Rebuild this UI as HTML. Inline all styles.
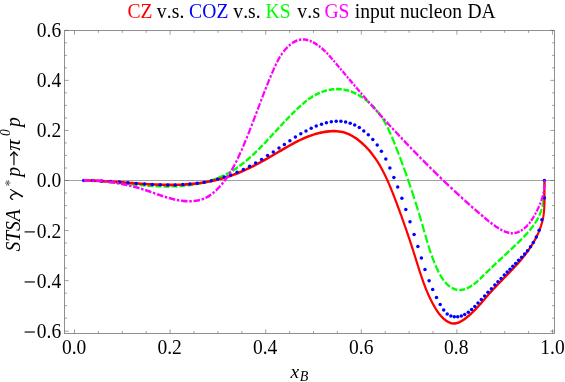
<!DOCTYPE html>
<html><head><meta charset="utf-8"><title>plot</title>
<style>html,body{margin:0;padding:0;background:#fff}svg{display:block;will-change:transform}text{font-family:"Liberation Serif",serif;font-kerning:none}</style></head><body>
<svg width="565" height="382" viewBox="0 0 565 382">
<rect width="565" height="382" fill="#fff"/>
<path d="M64.5,180.5 H554.5" stroke="#555" stroke-width="0.55" fill="none"/>
<g transform="scale(1,1.2)" fill="none" stroke-width="2.15">
<path d="M83.70,150.42 L84.68,150.43 L85.66,150.44 L86.64,150.46 L87.62,150.48 L88.60,150.51 L89.58,150.54 L89.78,150.54M91.70,150.61 L92.52,150.64 L93.50,150.68 L94.47,150.72 L95.45,150.77 L96.43,150.81 L97.40,150.86 L97.77,150.88M99.68,150.99 L100.33,151.03 L101.31,151.09 L102.28,151.15 L103.26,151.21 L104.23,151.27 L105.21,151.34 L105.75,151.38M107.66,151.51 L108.13,151.55 L109.10,151.62 L110.08,151.69 L111.05,151.76 L112.02,151.84 L112.99,151.92 L113.71,151.97M115.62,152.13 L115.91,152.15 L116.88,152.23 L117.86,152.31 L118.83,152.39 L119.80,152.48 L120.77,152.56 L121.67,152.63M123.58,152.80 L123.68,152.80 L124.66,152.89 L125.63,152.97 L126.60,153.05 L127.57,153.14 L128.54,153.22 L129.51,153.30 L129.63,153.31M131.54,153.47 L132.42,153.54 L133.39,153.62 L134.36,153.70 L135.33,153.78 L136.30,153.85 L137.27,153.93 L137.59,153.95M139.51,154.10 L140.19,154.15 L141.16,154.22 L142.13,154.29 L143.10,154.36 L144.07,154.42 L145.04,154.49 L145.57,154.52M147.48,154.64 L147.95,154.67 L148.93,154.73 L149.90,154.78 L150.87,154.83 L151.84,154.88 L152.81,154.93 L153.55,154.97M155.47,155.05 L155.73,155.06 L156.70,155.10 L157.68,155.13 L158.65,155.16 L159.62,155.19 L160.60,155.22 L161.54,155.24M163.46,155.27 L163.52,155.27 L164.49,155.29 L165.47,155.30 L166.44,155.30 L167.42,155.30 L168.39,155.30 L169.37,155.30 L169.54,155.30M171.46,155.27 L172.30,155.26 L173.27,155.23 L174.25,155.21 L175.23,155.18 L176.21,155.14 L177.18,155.11 L177.54,155.09M179.45,155.00 L180.12,154.96 L181.10,154.90 L182.08,154.84 L183.06,154.77 L184.04,154.70 L185.02,154.62 L185.51,154.58M187.42,154.41 L187.97,154.36 L188.95,154.26 L189.93,154.16 L190.90,154.05 L191.88,153.93 L192.86,153.81 L193.45,153.73M195.34,153.48 L195.78,153.41 L196.76,153.27 L197.73,153.12 L198.70,152.96 L199.66,152.80 L200.63,152.63 L201.31,152.51M203.18,152.16 L203.51,152.09 L204.47,151.90 L205.42,151.70 L206.37,151.49 L207.32,151.28 L208.27,151.06 L209.06,150.87M210.90,150.41 L211.09,150.36 L212.02,150.11 L212.95,149.86 L213.87,149.60 L214.79,149.33 L215.71,149.06 L216.62,148.77 L216.65,148.77M218.44,148.19 L219.34,147.88 L220.23,147.57 L221.12,147.25 L222.01,146.92 L222.89,146.59 L223.76,146.25 L224.01,146.15M225.73,145.44 L226.36,145.17 L227.21,144.80 L228.06,144.42 L228.91,144.03 L229.75,143.63 L230.58,143.23 L231.05,143.00M232.69,142.17 L233.06,141.98 L233.87,141.55 L234.68,141.11 L235.49,140.67 L236.29,140.22 L237.09,139.76 L237.82,139.34M239.39,138.39 L239.45,138.36 L240.23,137.88 L241.01,137.40 L241.78,136.91 L242.55,136.41 L243.31,135.91 L244.07,135.40 L244.40,135.18M245.94,134.13 L246.33,133.86 L247.08,133.34 L247.82,132.81 L248.56,132.27 L249.30,131.74 L250.03,131.20 L250.76,130.65 L250.81,130.61M252.32,129.47 L252.93,129.00 L253.65,128.44 L254.36,127.87 L255.08,127.31 L255.79,126.74 L256.49,126.17 L256.92,125.82M258.35,124.65 L258.60,124.44 L259.30,123.86 L259.99,123.27 L260.69,122.69 L261.38,122.10 L262.07,121.51 L262.74,120.94M264.11,119.75 L264.12,119.73 L264.81,119.14 L265.49,118.54 L266.17,117.94 L266.84,117.34 L267.52,116.74 L268.19,116.14 L268.34,116.01M269.67,114.82 L270.21,114.33 L270.88,113.73 L271.55,113.13 L272.21,112.53 L272.88,111.92 L273.55,111.32 L273.80,111.09M275.10,109.92 L275.54,109.52 L276.20,108.92 L276.87,108.32 L277.53,107.72 L278.19,107.12 L278.85,106.52 L279.17,106.24M280.46,105.08 L280.84,104.74 L281.51,104.14 L282.17,103.55 L282.83,102.96 L283.50,102.37 L284.17,101.78 L284.51,101.48M285.80,100.35 L286.17,100.02 L286.84,99.43 L287.51,98.85 L288.19,98.27 L288.86,97.69 L289.54,97.11 L289.89,96.81M291.20,95.70 L291.58,95.38 L292.26,94.81 L292.95,94.24 L293.64,93.67 L294.33,93.10 L295.03,92.54 L295.37,92.26M296.70,91.19 L297.13,90.85 L297.83,90.29 L298.54,89.74 L299.25,89.18 L299.97,88.63 L300.69,88.09 L300.97,87.88M302.35,86.86 L302.88,86.47 L303.62,85.95 L304.37,85.42 L305.12,84.91 L305.88,84.40 L306.64,83.90 L306.83,83.78M308.30,82.86 L308.98,82.44 L309.78,81.97 L310.58,81.52 L311.40,81.07 L312.22,80.63 L313.05,80.20 L313.10,80.18M314.67,79.41 L314.74,79.38 L315.60,78.99 L316.47,78.61 L317.35,78.25 L318.25,77.90 L319.15,77.56 L319.83,77.32M321.52,76.76 L321.92,76.63 L322.86,76.35 L323.80,76.09 L324.76,75.84 L325.71,75.61 L326.68,75.40 L326.96,75.34M328.72,75.01 L329.59,74.86 L330.57,74.72 L331.55,74.59 L332.53,74.49 L333.51,74.40 L334.33,74.34M336.11,74.27 L336.45,74.26 L337.43,74.25 L338.40,74.26 L339.37,74.30 L340.34,74.35 L341.30,74.43 L341.73,74.47M343.49,74.67 L344.17,74.77 L345.11,74.92 L346.05,75.09 L346.99,75.28 L347.92,75.49 L348.85,75.72 L349.08,75.78M350.81,76.26 L351.59,76.49 L352.49,76.78 L353.38,77.09 L354.27,77.41 L355.15,77.74 L356.03,78.09 L356.23,78.18M357.88,78.90 L358.60,79.23 L359.45,79.63 L360.29,80.05 L361.11,80.48 L361.93,80.92 L362.75,81.37 L363.02,81.53M364.57,82.46 L365.13,82.80 L365.91,83.30 L366.68,83.81 L367.44,84.33 L368.20,84.86 L368.94,85.40 L369.51,85.83M370.99,86.97 L371.12,87.07 L371.82,87.65 L372.52,88.23 L373.21,88.82 L373.89,89.42 L374.55,90.03 L375.21,90.65 L375.68,91.09M377.06,92.47 L377.13,92.53 L377.74,93.18 L378.35,93.82 L378.95,94.48 L379.53,95.14 L380.11,95.80 L380.67,96.47 L381.23,97.15 L381.35,97.30M382.60,98.89 L382.83,99.19 L383.34,99.88 L383.84,100.58 L384.33,101.28 L384.82,101.98 L385.29,102.69 L385.76,103.40 L386.22,104.11 L386.39,104.37M387.48,106.15 L387.55,106.27 L387.98,106.99 L388.41,107.72 L388.83,108.45 L389.24,109.18 L389.64,109.92 L390.05,110.66 L390.44,111.39 L390.82,112.12M391.81,114.03 L391.99,114.37 L392.36,115.12 L392.74,115.87 L393.11,116.62 L393.48,117.37 L393.84,118.12 L394.21,118.87 L394.57,119.63 L394.91,120.32M395.86,122.32 L396.01,122.65 L396.37,123.41 L396.73,124.16 L397.08,124.92 L397.44,125.68 L397.79,126.44 L398.14,127.20 L398.50,127.96 L398.85,128.72 L398.91,128.85M399.85,130.92 L399.89,131.00 L400.23,131.76 L400.58,132.52 L400.92,133.29 L401.26,134.05 L401.61,134.82 L401.95,135.58 L402.29,136.34 L402.62,137.11 L402.87,137.68M403.81,139.82 L403.96,140.17 L404.30,140.94 L404.63,141.71 L404.96,142.48 L405.29,143.25 L405.62,144.02 L405.94,144.78 L406.27,145.55 L406.60,146.32 L406.80,146.80M407.72,149.01 L407.89,149.41 L408.21,150.18 L408.53,150.95 L408.84,151.72 L409.16,152.50 L409.48,153.27 L409.79,154.04 L410.10,154.81 L410.42,155.59 L410.67,156.22M411.58,158.50 L411.66,158.69 L411.97,159.46 L412.27,160.24 L412.58,161.01 L412.88,161.79 L413.19,162.56 L413.49,163.34 L413.79,164.11 L414.09,164.89 L414.39,165.67 L414.43,165.77M415.31,168.07 L415.58,168.78 L415.87,169.55 L416.17,170.33 L416.46,171.11 L416.75,171.89 L417.04,172.66 L417.33,173.44 L417.62,174.22 L417.91,175.00 L417.98,175.20M418.81,177.45 L419.05,178.11 L419.33,178.89 L419.61,179.67 L419.89,180.45 L420.17,181.23 L420.45,182.01 L420.73,182.79 L421.01,183.57 L421.29,184.35 L421.32,184.44M422.10,186.65 L422.11,186.68 L422.38,187.46 L422.65,188.24 L422.92,189.02 L423.19,189.80 L423.46,190.58 L423.73,191.36 L424.00,192.14 L424.27,192.92 L424.47,193.51M425.21,195.68 L425.34,196.03 L425.61,196.81 L425.88,197.59 L426.15,198.37 L426.42,199.14 L426.69,199.92 L426.97,200.70 L427.24,201.47 L427.52,202.25 L427.57,202.38M428.34,204.48 L428.38,204.58 L428.66,205.35 L428.96,206.12 L429.25,206.90 L429.55,207.67 L429.85,208.44 L430.16,209.21 L430.47,209.98 L430.78,210.75 L430.87,210.98M431.73,213.01 L431.75,213.05 L432.08,213.82 L432.42,214.59 L432.76,215.35 L433.10,216.12 L433.46,216.88 L433.82,217.64 L434.18,218.40 L434.55,219.16 L434.59,219.24M435.57,221.18 L435.70,221.44 L436.10,222.19 L436.50,222.95 L436.92,223.70 L437.34,224.45 L437.76,225.21 L438.20,225.96 L438.64,226.70 L438.77,226.92M439.89,228.69 L440.04,228.92 L440.52,229.64 L441.03,230.36 L441.54,231.07 L442.08,231.77 L442.63,232.45 L443.19,233.12 L443.72,233.72M445.14,235.18 L445.65,235.66 L446.31,236.25 L447.00,236.82 L447.72,237.37 L448.45,237.90 L449.22,238.40 L449.99,238.87M451.75,239.80 L452.47,240.12 L453.33,240.47 L454.20,240.77 L455.08,241.04 L455.98,241.26 L456.88,241.44 L457.39,241.51M459.28,241.65 L459.63,241.66 L460.56,241.64 L461.48,241.56 L462.41,241.44 L463.34,241.28 L464.26,241.07 L465.05,240.86M466.79,240.32 L467.00,240.24 L467.89,239.90 L468.78,239.53 L469.66,239.14 L470.53,238.72 L471.38,238.28 L472.07,237.90M473.62,236.99 L473.85,236.86 L474.64,236.36 L475.42,235.84 L476.18,235.31 L476.94,234.78 L477.68,234.23 L478.36,233.72M479.79,232.61 L479.87,232.55 L480.58,231.97 L481.29,231.40 L482.00,230.82 L482.70,230.24 L483.40,229.65 L484.10,229.07 L484.26,228.93M485.67,227.77 L486.19,227.34 L486.89,226.76 L487.60,226.19 L488.30,225.62 L489.00,225.05 L489.71,224.49 L490.26,224.05M491.72,222.88 L491.82,222.80 L492.53,222.24 L493.23,221.68 L493.94,221.13 L494.65,220.57 L495.35,220.01 L496.06,219.46 L496.46,219.15M497.97,217.98 L498.19,217.80 L498.90,217.25 L499.61,216.70 L500.32,216.15 L501.03,215.60 L501.74,215.05 L502.45,214.50 L502.83,214.20M504.37,213.01 L504.58,212.85 L505.29,212.30 L506.00,211.75 L506.71,211.20 L507.42,210.65 L508.13,210.09 L508.84,209.54 L509.27,209.20M510.82,207.99 L510.96,207.87 L511.67,207.32 L512.38,206.76 L513.09,206.20 L513.79,205.64 L514.50,205.07 L515.21,204.51 L515.69,204.12M517.22,202.88 L517.32,202.80 L518.02,202.23 L518.73,201.66 L519.43,201.08 L520.13,200.50 L520.83,199.92 L521.53,199.34 L522.02,198.92M523.52,197.64 L523.61,197.57 L524.29,196.97 L524.97,196.37 L525.65,195.77 L526.32,195.16 L526.98,194.55 L527.64,193.94 L528.12,193.48M529.52,192.13 L529.57,192.08 L530.20,191.45 L530.81,190.81 L531.42,190.17 L532.02,189.53 L532.61,188.88 L533.19,188.23 L533.69,187.64M534.91,186.16 L535.39,185.56 L535.90,184.87 L536.41,184.19 L536.90,183.49 L537.37,182.79 L537.83,182.09 L538.27,181.38 L538.35,181.24M539.28,179.62 L539.51,179.20 L539.88,178.46 L540.24,177.72 L540.58,176.96 L540.90,176.20 L541.20,175.43 L541.49,174.66 L541.67,174.14M542.22,172.35 L542.24,172.30 L542.45,171.50 L542.66,170.70 L542.84,169.90 L543.02,169.09 L543.18,168.27 L543.32,167.46 L543.46,166.64 L543.48,166.52M543.73,164.66 L543.79,164.17 L543.88,163.35 L543.96,162.52 L544.03,161.70 L544.10,160.87 L544.15,160.05 L544.20,159.22 L544.23,158.70M544.30,156.81 L544.31,156.76 L544.33,155.94 L544.35,155.13 L544.36,154.32 L544.38,153.51 L544.38,152.71 L544.39,151.91 L544.40,151.12 L544.40,150.82" stroke="#00ff00"/>
<path d="M83.70,150.42 L85.65,150.43 L87.59,150.45 L89.54,150.48 L91.48,150.52 L93.43,150.57 L95.37,150.63 L97.31,150.69 L99.25,150.76 L101.19,150.84 L103.13,150.92 L105.08,151.01 L107.02,151.11 L108.95,151.21 L110.89,151.31 L112.83,151.42 L114.77,151.53 L116.71,151.65 L118.65,151.77 L120.58,151.88 L122.52,152.00 L124.46,152.13 L126.39,152.25 L128.33,152.37 L130.27,152.49 L132.20,152.61 L134.14,152.73 L136.08,152.85 L138.01,152.96 L139.95,153.07 L141.89,153.18 L143.82,153.28 L145.76,153.38 L147.70,153.48 L149.63,153.57 L151.57,153.65 L153.51,153.73 L155.45,153.80 L157.39,153.87 L159.32,153.92 L161.26,153.97 L163.20,154.01 L165.14,154.04 L167.08,154.06 L169.02,154.07 L170.97,154.07 L172.91,154.06 L174.85,154.04 L176.79,154.00 L178.74,153.96 L180.68,153.90 L182.63,153.82 L184.57,153.74 L186.52,153.63 L188.46,153.52 L190.41,153.39 L192.35,153.24 L194.29,153.08 L196.23,152.90 L198.17,152.71 L200.11,152.50 L202.04,152.27 L203.96,152.03 L205.89,151.76 L207.81,151.48 L209.72,151.18 L211.63,150.87 L213.53,150.53 L215.43,150.18 L217.31,149.80 L219.20,149.41 L221.07,148.99 L222.93,148.55 L224.79,148.10 L226.64,147.62 L228.48,147.12 L230.31,146.60 L232.13,146.06 L233.95,145.50 L235.75,144.93 L237.55,144.33 L239.34,143.72 L241.13,143.10 L242.90,142.45 L244.67,141.80 L246.44,141.12 L248.19,140.44 L249.94,139.74 L251.69,139.02 L253.43,138.30 L255.16,137.57 L256.89,136.82 L258.61,136.06 L260.33,135.30 L262.04,134.52 L263.75,133.74 L265.45,132.95 L267.15,132.15 L268.85,131.35 L270.54,130.54 L272.23,129.72 L273.91,128.90 L275.60,128.08 L277.28,127.25 L278.96,126.42 L280.63,125.60 L282.31,124.77 L283.99,123.95 L285.67,123.14 L287.36,122.33 L289.05,121.53 L290.74,120.74 L292.44,119.97 L294.14,119.21 L295.85,118.46 L297.57,117.73 L299.30,117.02 L301.04,116.32 L302.79,115.66 L304.55,115.01 L306.32,114.39 L308.11,113.79 L309.91,113.23 L311.73,112.69 L313.56,112.19 L315.41,111.72 L317.27,111.28 L319.16,110.88 L321.06,110.52 L322.98,110.19 L324.93,109.91 L326.89,109.68 L328.87,109.49 L330.85,109.36 L332.84,109.30 L334.82,109.29 L336.79,109.36 L338.74,109.51 L340.67,109.74 L342.58,110.06 L344.45,110.47 L346.29,110.97 L348.09,111.56 L349.85,112.23 L351.58,112.98 L353.27,113.79 L354.92,114.66 L356.53,115.58 L358.10,116.56 L359.63,117.57 L361.13,118.62 L362.58,119.69 L364.00,120.79 L365.37,121.92 L366.71,123.07 L368.02,124.25 L369.29,125.45 L370.52,126.67 L371.72,127.91 L372.89,129.18 L374.03,130.46 L375.14,131.77 L376.22,133.09 L377.28,134.43 L378.30,135.79 L379.31,137.17 L380.28,138.56 L381.23,139.96 L382.16,141.38 L383.07,142.81 L383.96,144.25 L384.83,145.71 L385.68,147.17 L386.51,148.64 L387.32,150.13 L388.12,151.62 L388.91,153.12 L389.68,154.62 L390.44,156.13 L391.18,157.64 L391.92,159.16 L392.65,160.68 L393.37,162.21 L394.08,163.73 L394.78,165.26 L395.48,166.78 L396.18,168.31 L396.87,169.83 L397.55,171.36 L398.23,172.88 L398.91,174.40 L399.58,175.93 L400.25,177.45 L400.92,178.97 L401.58,180.49 L402.23,182.01 L402.88,183.53 L403.53,185.05 L404.17,186.58 L404.81,188.10 L405.45,189.62 L406.08,191.14 L406.71,192.66 L407.34,194.19 L407.96,195.71 L408.57,197.24 L409.19,198.76 L409.80,200.29 L410.41,201.81 L411.01,203.34 L411.61,204.87 L412.21,206.40 L412.80,207.93 L413.40,209.47 L413.98,211.00 L414.57,212.53 L415.15,214.07 L415.73,215.61 L416.31,217.15 L416.89,218.69 L417.46,220.23 L418.04,221.77 L418.63,223.31 L419.21,224.85 L419.81,226.39 L420.41,227.93 L421.02,229.46 L421.64,231.00 L422.27,232.53 L422.91,234.05 L423.57,235.58 L424.24,237.10 L424.93,238.61 L425.64,240.12 L426.37,241.62 L427.12,243.12 L427.89,244.62 L428.68,246.10 L429.50,247.58 L430.34,249.05 L431.21,250.52 L432.11,251.97 L433.04,253.42 L434.00,254.85 L434.99,256.28 L436.02,257.70 L437.09,259.09 L438.21,260.46 L439.39,261.78 L440.64,263.04 L441.96,264.25 L443.36,265.38 L444.85,266.43 L446.44,267.38 L448.11,268.21 L449.84,268.87 L451.61,269.33 L453.39,269.56 L455.18,269.51 L456.96,269.21 L458.72,268.70 L460.45,268.02 L462.15,267.20 L463.82,266.29 L465.43,265.31 L467.01,264.31 L468.53,263.27 L470.02,262.20 L471.47,261.10 L472.88,259.98 L474.27,258.84 L475.62,257.68 L476.95,256.50 L478.27,255.31 L479.56,254.10 L480.84,252.88 L482.12,251.66 L483.38,250.44 L484.64,249.21 L485.90,247.98 L487.17,246.75 L488.44,245.53 L489.73,244.31 L491.02,243.11 L492.33,241.91 L493.65,240.72 L494.98,239.54 L496.31,238.36 L497.65,237.19 L499.00,236.02 L500.35,234.85 L501.71,233.69 L503.07,232.53 L504.42,231.36 L505.78,230.20 L507.14,229.04 L508.49,227.87 L509.84,226.70 L511.18,225.53 L512.51,224.35 L513.84,223.17 L515.16,221.98 L516.46,220.78 L517.76,219.57 L519.04,218.36 L520.31,217.13 L521.56,215.89 L522.79,214.64 L524.01,213.38 L525.21,212.11 L526.38,210.82 L527.54,209.51 L528.67,208.19 L529.78,206.86 L530.85,205.51 L531.90,204.14 L532.92,202.76 L533.91,201.37 L534.86,199.96 L535.77,198.53 L536.65,197.09 L537.49,195.64 L538.29,194.17 L539.04,192.69 L539.75,191.20 L540.42,189.69 L541.03,188.17 L541.60,186.63 L542.11,185.08 L542.57,183.52 L542.98,181.95 L543.33,180.36 L543.62,178.76 L543.86,177.14 L544.06,175.52 L544.21,173.89 L544.33,172.26 L544.42,170.62 L544.47,168.97 L544.51,167.33 L544.52,165.68 L544.52,164.04 L544.51,162.40 L544.50,160.76 L544.48,159.13 L544.47,157.51 L544.47,155.89 L544.48,154.29 L544.51,152.70 L544.56,151.12" stroke="#ff0000" stroke-linejoin="round"/>
</g>
<g fill="#0000ff"><circle cx="83.7" cy="180.5" r="1.75"/><circle cx="92.9" cy="180.6" r="1.75"/><circle cx="101.5" cy="181.0" r="1.75"/><circle cx="110.6" cy="181.5" r="1.75"/><circle cx="119.5" cy="182.1" r="1.75"/><circle cx="127.9" cy="182.8" r="1.75"/><circle cx="136.2" cy="183.4" r="1.75"/><circle cx="144.5" cy="184.0" r="1.75"/><circle cx="152.4" cy="184.5" r="1.75"/><circle cx="160.2" cy="184.8" r="1.75"/><circle cx="167.8" cy="184.9" r="1.75"/><circle cx="175.2" cy="184.9" r="1.75"/><circle cx="182.8" cy="184.6" r="1.75"/><circle cx="189.9" cy="184.1" r="1.75"/><circle cx="197.2" cy="183.3" r="1.75"/><circle cx="204.2" cy="182.2" r="1.75"/><circle cx="211.2" cy="180.8" r="1.75"/><circle cx="217.7" cy="179.1" r="1.75"/><circle cx="224.3" cy="177.1" r="1.75"/><circle cx="230.6" cy="174.9" r="1.75"/><circle cx="237.1" cy="172.2" r="1.75"/><circle cx="243.4" cy="169.4" r="1.75"/><circle cx="249.6" cy="166.2" r="1.75"/><circle cx="255.6" cy="162.9" r="1.75"/><circle cx="261.6" cy="159.4" r="1.75"/><circle cx="267.6" cy="155.6" r="1.75"/><circle cx="273.3" cy="151.9" r="1.75"/><circle cx="279.0" cy="148.0" r="1.75"/><circle cx="284.4" cy="144.4" r="1.75"/><circle cx="289.9" cy="140.7" r="1.75"/><circle cx="295.4" cy="137.1" r="1.75"/><circle cx="300.8" cy="133.8" r="1.75"/><circle cx="306.0" cy="130.9" r="1.75"/><circle cx="311.2" cy="128.3" r="1.75"/><circle cx="316.2" cy="126.1" r="1.75"/><circle cx="321.5" cy="124.2" r="1.75"/><circle cx="326.4" cy="122.8" r="1.75"/><circle cx="331.3" cy="121.8" r="1.75"/><circle cx="336.2" cy="121.3" r="1.75"/><circle cx="340.9" cy="121.3" r="1.75"/><circle cx="345.6" cy="121.9" r="1.75"/><circle cx="350.2" cy="123.2" r="1.75"/><circle cx="354.7" cy="125.0" r="1.75"/><circle cx="359.3" cy="127.6" r="1.75"/><circle cx="363.8" cy="130.9" r="1.75"/><circle cx="368.3" cy="134.8" r="1.75"/><circle cx="372.8" cy="139.5" r="1.75"/><circle cx="377.2" cy="145.0" r="1.75"/><circle cx="381.4" cy="151.3" r="1.75"/><circle cx="385.8" cy="159.1" r="1.75"/><circle cx="389.9" cy="167.9" r="1.75"/><circle cx="393.9" cy="177.4" r="1.75"/><circle cx="397.7" cy="187.1" r="1.75"/><circle cx="401.9" cy="198.2" r="1.75"/><circle cx="405.8" cy="209.4" r="1.75"/><circle cx="410.0" cy="221.7" r="1.75"/><circle cx="414.1" cy="234.4" r="1.75"/><circle cx="417.9" cy="246.5" r="1.75"/><circle cx="421.4" cy="258.1" r="1.75"/><circle cx="425.0" cy="269.4" r="1.75"/><circle cx="429.1" cy="280.7" r="1.75"/><circle cx="432.7" cy="289.6" r="1.75"/><circle cx="436.5" cy="297.6" r="1.75"/><circle cx="440.2" cy="304.5" r="1.75"/><circle cx="443.7" cy="310.0" r="1.75"/><circle cx="447.2" cy="313.9" r="1.75"/><circle cx="450.9" cy="316.1" r="1.75"/><circle cx="454.3" cy="316.8" r="1.75"/><circle cx="457.7" cy="316.7" r="1.75"/><circle cx="461.3" cy="315.9" r="1.75"/><circle cx="464.7" cy="314.5" r="1.75"/><circle cx="468.3" cy="312.2" r="1.75"/><circle cx="471.6" cy="309.6" r="1.75"/><circle cx="474.8" cy="306.4" r="1.75"/><circle cx="478.0" cy="303.1" r="1.75"/><circle cx="481.3" cy="299.5" r="1.75"/><circle cx="484.6" cy="295.9" r="1.75"/><circle cx="488.0" cy="292.3" r="1.75"/><circle cx="491.4" cy="288.8" r="1.75"/><circle cx="494.8" cy="285.1" r="1.75"/><circle cx="497.9" cy="281.8" r="1.75"/><circle cx="501.1" cy="278.5" r="1.75"/><circle cx="504.3" cy="275.1" r="1.75"/><circle cx="507.2" cy="272.1" r="1.75"/><circle cx="510.1" cy="269.2" r="1.75"/><circle cx="512.8" cy="266.3" r="1.75"/><circle cx="515.7" cy="263.4" r="1.75"/><circle cx="518.6" cy="260.3" r="1.75"/><circle cx="521.6" cy="257.2" r="1.75"/><circle cx="524.6" cy="254.0" r="1.75"/><circle cx="527.5" cy="250.7" r="1.75"/><circle cx="530.5" cy="246.8" r="1.75"/><circle cx="533.3" cy="242.5" r="1.75"/><circle cx="536.3" cy="237.0" r="1.75"/><circle cx="539.1" cy="230.3" r="1.75"/><circle cx="541.9" cy="219.8" r="1.75"/><circle cx="544.4" cy="198.0" r="1.75"/><circle cx="544.4" cy="180.4" r="1.75"/></g>
<path transform="scale(1,1.2)" d="M83.70,150.33 L84.67,150.33 L85.64,150.33 L86.61,150.34 L87.57,150.35 L88.54,150.36 L89.51,150.38 L90.20,150.40M91.95,150.44 L92.40,150.46 L93.36,150.49 L94.33,150.53 L94.45,150.53M96.19,150.61 L96.25,150.62 L97.21,150.67 L98.17,150.72 L99.13,150.78 L100.09,150.84 L101.05,150.90 L102.00,150.97 L102.67,151.02M104.42,151.16 L104.87,151.20 L105.82,151.28 L106.78,151.37 L106.90,151.38M108.64,151.55 L108.68,151.56 L109.63,151.66 L110.58,151.76 L111.53,151.87 L112.48,151.98 L113.43,152.10 L114.38,152.22 L115.08,152.31M116.80,152.54 L117.21,152.60 L118.16,152.73 L119.10,152.87 L119.27,152.90M120.99,153.16 L121.93,153.31 L122.87,153.47 L123.81,153.63 L124.75,153.79 L125.68,153.96 L126.62,154.13 L127.35,154.26M129.06,154.59 L129.43,154.66 L130.36,154.85 L131.29,155.04 L131.49,155.08M133.18,155.44 L134.09,155.63 L135.02,155.84 L135.94,156.05 L136.87,156.26 L137.80,156.48 L138.72,156.70 L139.45,156.88M141.13,157.30 L141.50,157.39 L142.42,157.63 L143.34,157.87 L143.51,157.92M145.18,158.36 L145.18,158.36 L146.10,158.62 L147.02,158.87 L147.93,159.13 L148.85,159.39 L149.76,159.66 L150.68,159.92 L151.33,160.11M152.98,160.60 L153.42,160.73 L154.34,161.00 L155.25,161.27 L155.34,161.29M156.99,161.78 L157.08,161.81 L158.00,162.08 L158.91,162.34 L159.82,162.60 L160.74,162.87 L161.66,163.12 L162.57,163.38 L163.14,163.54M164.80,163.99 L165.32,164.12 L166.24,164.36 L167.16,164.60 L167.19,164.60M168.87,165.02 L169.01,165.05 L169.93,165.27 L170.85,165.48 L171.78,165.68 L172.71,165.88 L173.63,166.06 L174.56,166.24 L175.16,166.35M176.88,166.65 L177.37,166.73 L178.30,166.87 L179.24,167.01 L179.34,167.02M181.07,167.24 L181.13,167.24 L182.07,167.35 L183.02,167.44 L183.97,167.51 L184.92,167.58 L185.88,167.63 L186.83,167.67 L187.54,167.69M189.29,167.71 L189.72,167.71 L190.69,167.69 L191.66,167.66 L191.79,167.65M193.54,167.55 L193.59,167.54 L194.56,167.46 L195.52,167.36 L196.47,167.24 L197.43,167.10 L198.37,166.95 L199.31,166.77 L199.94,166.63M201.62,166.23 L202.09,166.10 L202.99,165.84 L203.88,165.55 L203.97,165.52M205.56,164.92 L205.63,164.90 L206.49,164.53 L207.33,164.15 L208.16,163.75 L208.98,163.32 L209.79,162.88 L210.58,162.42 L211.15,162.07M212.54,161.17 L212.89,160.94 L213.64,160.42 L214.38,159.89 L214.47,159.82M215.78,158.83 L215.82,158.80 L216.52,158.24 L217.22,157.68 L217.90,157.10 L218.57,156.53 L219.23,155.94 L219.89,155.35 L220.43,154.85M221.61,153.73 L221.79,153.55 L222.40,152.94 L223.01,152.32 L223.24,152.08M224.35,150.90 L224.78,150.43 L225.35,149.79 L225.91,149.15 L226.47,148.50 L227.02,147.85 L227.56,147.19 L228.09,146.53 L228.26,146.32M229.25,145.05 L229.65,144.51 L230.15,143.84 L230.61,143.21M231.54,141.90 L231.63,141.78 L232.11,141.09 L232.58,140.39 L233.05,139.69 L233.51,138.99 L233.97,138.29 L234.42,137.58 L234.84,136.92M235.68,135.56 L235.75,135.44 L236.18,134.72 L236.61,134.00 L236.85,133.60M237.65,132.22 L237.87,131.83 L238.28,131.10 L238.69,130.38 L239.09,129.64 L239.50,128.91 L239.90,128.18 L240.29,127.45 L240.53,127.00M241.28,125.59 L241.47,125.24 L241.85,124.50 L242.24,123.77 L242.34,123.56M243.08,122.14 L243.38,121.55 L243.76,120.81 L244.13,120.07 L244.50,119.33 L244.87,118.59 L245.24,117.85 L245.61,117.11 L245.76,116.80M246.47,115.36 L246.70,114.88 L247.07,114.14 L247.43,113.39 L247.47,113.30M248.17,111.85 L248.50,111.16 L248.85,110.42 L249.21,109.67 L249.56,108.93 L249.91,108.18 L250.26,107.43 L250.61,106.69 L250.70,106.49M251.38,105.04 L251.65,104.45 L252.00,103.70 L252.33,102.97M253.00,101.52 L253.03,101.46 L253.37,100.71 L253.71,99.96 L254.05,99.21 L254.40,98.46 L254.74,97.71 L255.08,96.96 L255.42,96.22 L255.43,96.19M256.08,94.76 L256.10,94.72 L256.44,93.97 L256.78,93.22 L257.01,92.70M257.66,91.27 L257.79,90.97 L258.13,90.22 L258.47,89.47 L258.81,88.73 L259.15,87.98 L259.49,87.23 L259.83,86.48 L260.05,85.99M260.70,84.57 L260.85,84.23 L261.19,83.49 L261.53,82.74 L261.62,82.55M262.27,81.13 L262.57,80.49 L262.91,79.75 L263.26,79.00 L263.60,78.25 L263.95,77.51 L264.30,76.76 L264.65,76.01 L264.69,75.92M265.35,74.53 L265.35,74.52 L265.70,73.78 L266.05,73.03 L266.29,72.53M266.96,71.13 L267.12,70.80 L267.48,70.06 L267.84,69.31 L268.20,68.57 L268.56,67.83 L268.93,67.09 L269.29,66.35 L269.45,66.02M270.14,64.65 L270.40,64.12 L270.77,63.38 L271.12,62.70M271.82,61.33 L271.90,61.17 L272.28,60.43 L272.67,59.69 L273.05,58.96 L273.44,58.22 L273.83,57.49 L274.22,56.75 L274.44,56.35M275.17,55.02 L275.42,54.56 L275.83,53.84 L276.24,53.13M277.02,51.82 L277.11,51.68 L277.55,50.96 L278.00,50.25 L278.46,49.55 L278.93,48.85 L279.41,48.16 L279.90,47.47 L280.13,47.15M281.05,45.93 L281.45,45.44 L281.99,44.77 L282.44,44.24M283.47,43.08 L283.71,42.82 L284.32,42.19 L284.94,41.57 L285.58,40.95 L286.24,40.34 L286.92,39.75 L287.61,39.17 L287.62,39.16M288.85,38.20 L289.05,38.04 L289.80,37.51 L290.55,36.99 L290.69,36.91M292.05,36.07 L292.11,36.03 L292.91,35.59 L293.72,35.17 L294.55,34.78 L295.38,34.42 L296.23,34.09 L297.09,33.80 L297.39,33.71M298.94,33.30 L299.71,33.15 L300.60,33.01 L301.23,32.94M302.85,32.86 L303.31,32.86 L304.23,32.90 L305.15,32.99 L306.07,33.12 L306.99,33.28 L307.92,33.49 L308.31,33.59M309.72,33.99 L309.75,34.00 L310.67,34.31 L311.57,34.64 L311.69,34.69M313.03,35.24 L313.37,35.38 L314.25,35.79 L315.12,36.21 L315.98,36.65 L316.82,37.11 L317.64,37.58M318.83,38.28 L319.26,38.55 L320.04,39.05 L320.48,39.34M321.60,40.11 L322.29,40.60 L323.02,41.13 L323.73,41.67 L324.43,42.22 L325.12,42.77 L325.59,43.15M326.61,44.01 L327.14,44.47 L327.79,45.04 L328.05,45.27M329.03,46.16 L329.08,46.21 L329.72,46.80 L330.35,47.39 L330.97,47.99 L331.59,48.59 L332.21,49.19 L332.59,49.56M333.53,50.48 L334.05,51.00 L334.67,51.61 L334.87,51.81M335.81,52.74 L335.89,52.82 L336.51,53.43 L337.12,54.04 L337.74,54.65 L338.35,55.26 L338.96,55.87 L339.29,56.19M340.22,57.12 L340.81,57.70 L341.43,58.31 L341.56,58.44M342.50,59.37 L342.66,59.54 L343.27,60.15 L343.89,60.76 L344.51,61.37 L345.13,61.99 L345.74,62.60 L345.97,62.83M346.91,63.75 L346.98,63.82 L347.60,64.44 L348.22,65.05 L348.25,65.08M349.19,66.01 L349.46,66.28 L350.08,66.89 L350.70,67.50 L351.32,68.11 L351.94,68.73 L352.56,69.34 L352.75,69.52M353.71,70.47 L353.81,70.56 L354.43,71.17 L355.05,71.79 L355.09,71.82M356.05,72.76 L356.30,73.01 L356.93,73.62 L357.55,74.23 L358.18,74.84 L358.81,75.45 L359.43,76.06 L359.76,76.38M360.77,77.35 L361.32,77.88 L361.94,78.49 L362.20,78.73M363.20,79.70 L363.83,80.31 L364.46,80.91 L365.10,81.52 L365.73,82.13 L366.36,82.73 L366.99,83.34 L367.08,83.42M368.12,84.42 L368.26,84.54 L368.89,85.15 L369.53,85.75 L369.62,85.84M370.67,86.84 L370.80,86.96 L371.43,87.56 L372.07,88.16 L372.71,88.76 L373.34,89.36 L373.98,89.96 L374.62,90.56 L374.71,90.65M375.80,91.68 L375.90,91.76 L376.54,92.36 L377.18,92.96 L377.37,93.14M378.46,94.16 L379.10,94.76 L379.74,95.35 L380.38,95.95 L381.03,96.55 L381.67,97.14 L382.32,97.74 L382.68,98.08M383.83,99.13 L384.25,99.52 L384.90,100.12 L385.46,100.63M386.60,101.68 L386.84,101.90 L387.49,102.49 L388.13,103.08 L388.78,103.68 L389.43,104.27 L390.08,104.86 L390.73,105.45 L391.01,105.70M392.21,106.78 L392.69,107.22 L393.34,107.81 L393.91,108.32M395.11,109.40 L395.30,109.57 L395.96,110.16 L396.61,110.75 L397.27,111.34 L397.92,111.92 L398.58,112.51 L399.24,113.09 L399.70,113.51M400.94,114.61 L401.21,114.85 L401.87,115.43 L402.53,116.01 L402.72,116.18M403.97,117.28 L404.51,117.76 L405.18,118.34 L405.84,118.93 L406.50,119.51 L407.16,120.09 L407.83,120.67 L408.49,121.25 L408.76,121.48M410.05,122.60 L410.49,122.98 L411.16,123.56 L411.82,124.14 L411.90,124.21M413.20,125.33 L413.83,125.87 L414.50,126.44 L415.17,127.02 L415.84,127.59 L416.51,128.17 L417.18,128.74 L417.85,129.31 L418.20,129.61M419.55,130.76 L419.87,131.03 L420.54,131.60 L421.22,132.17 L421.48,132.40M422.84,133.54 L423.25,133.88 L423.92,134.45 L424.60,135.02 L425.28,135.59 L425.96,136.16 L426.63,136.73 L427.31,137.29 L427.99,137.86 L428.05,137.91M429.46,139.08 L430.04,139.56 L430.72,140.12 L431.40,140.68 L431.48,140.75M432.90,141.92 L433.45,142.37 L434.14,142.94 L434.82,143.50 L435.51,144.06 L436.20,144.62 L436.88,145.18 L437.57,145.74 L438.26,146.30 L438.35,146.37M439.82,147.56 L440.33,147.97 L441.02,148.53 L441.71,149.09 L441.93,149.26M443.41,150.45 L443.79,150.75 L444.48,151.31 L445.18,151.86 L445.87,152.42 L446.57,152.97 L447.26,153.52 L447.96,154.07 L448.66,154.62 L448.97,154.87M450.48,156.06 L450.75,156.27 L451.45,156.82 L452.16,157.37 L452.63,157.75M454.15,158.92 L454.26,159.01 L454.96,159.56 L455.67,160.11 L456.37,160.65 L457.08,161.19 L457.78,161.74 L458.49,162.28 L459.20,162.82 L459.53,163.08M460.99,164.19 L461.32,164.45 L462.03,164.99 L462.74,165.53 L463.08,165.78M464.54,166.88 L464.88,167.14 L465.59,167.68 L466.31,168.21 L467.02,168.75 L467.74,169.29 L468.45,169.82 L469.17,170.35 L469.75,170.78M471.16,171.83 L471.33,171.95 L472.05,172.48 L472.77,173.01 L473.18,173.31M474.59,174.35 L474.93,174.60 L475.66,175.13 L476.38,175.65 L477.11,176.18 L477.83,176.70 L478.56,177.23 L479.29,177.75 L479.63,178.00M480.99,178.98 L481.48,179.32 L482.21,179.84 L482.94,180.36 L482.94,180.37M484.32,181.34 L484.40,181.40 L485.14,181.92 L485.88,182.43 L486.62,182.94 L487.37,183.45 L488.12,183.95 L488.87,184.46 L489.23,184.69M490.57,185.57 L491.16,185.94 L491.93,186.42 L492.53,186.79M493.91,187.62 L494.29,187.85 L495.09,188.31 L495.90,188.77 L496.72,189.21 L497.55,189.66 L498.38,190.09 L498.94,190.38M500.34,191.06 L500.94,191.34 L501.81,191.74 L502.37,191.98M503.83,192.57 L504.46,192.80 L505.36,193.11 L506.26,193.39 L507.16,193.64 L508.06,193.86 L508.97,194.04 L509.19,194.08M510.70,194.28 L510.79,194.28 L511.69,194.34 L512.60,194.35 L512.88,194.34M514.40,194.22 L515.29,194.08 L516.18,193.91 L517.06,193.69 L517.94,193.43 L518.80,193.13 L519.62,192.81M520.92,192.22 L521.32,192.03 L522.13,191.60 L522.70,191.27M523.90,190.53 L524.46,190.16 L525.20,189.63 L525.92,189.09 L526.61,188.53 L527.29,187.95 L527.95,187.35 L527.97,187.33M528.95,186.38 L529.22,186.11 L529.83,185.47 L530.28,184.97M531.17,183.95 L531.56,183.47 L532.11,182.79 L532.65,182.10 L533.17,181.40 L533.68,180.69 L534.17,179.98 L534.19,179.95M534.94,178.83 L535.14,178.54 L535.60,177.81 L535.97,177.23M536.67,176.10 L536.95,175.64 L537.38,174.91 L537.80,174.19 L538.22,173.46 L538.62,172.73 L539.01,172.00 L539.16,171.72M539.78,170.53 L540.13,169.81 L540.48,169.07 L540.60,168.80M541.15,167.58 L541.45,166.85 L541.75,166.10 L542.03,165.36 L542.31,164.60 L542.56,163.85 L542.80,163.09 L542.90,162.76M543.27,161.44 L543.44,160.79 L543.62,160.02 L543.72,159.54M543.97,158.21 L544.06,157.67 L544.17,156.88 L544.27,156.08 L544.34,155.28 L544.40,154.47 L544.44,153.65 L544.46,153.07M544.45,151.68 L544.44,151.17 L544.40,150.33" stroke="#ff00ff" fill="none" stroke-width="2.15"/>
<rect x="64.5" y="30.5" width="490.0" height="303.0" fill="none" stroke="#909090" stroke-width="1"/>
<path d="M74.50,333.5v-4.2M74.50,30.5v4.2M98.40,333.5v-2.4M98.40,30.5v2.4M122.30,333.5v-2.4M122.30,30.5v2.4M146.20,333.5v-2.4M146.20,30.5v2.4M170.10,333.5v-4.2M170.10,30.5v4.2M194.00,333.5v-2.4M194.00,30.5v2.4M217.90,333.5v-2.4M217.90,30.5v2.4M241.80,333.5v-2.4M241.80,30.5v2.4M265.70,333.5v-4.2M265.70,30.5v4.2M289.60,333.5v-2.4M289.60,30.5v2.4M313.50,333.5v-2.4M313.50,30.5v2.4M337.40,333.5v-2.4M337.40,30.5v2.4M361.30,333.5v-4.2M361.30,30.5v4.2M385.20,333.5v-2.4M385.20,30.5v2.4M409.10,333.5v-2.4M409.10,30.5v2.4M433.00,333.5v-2.4M433.00,30.5v2.4M456.90,333.5v-4.2M456.90,30.5v4.2M480.80,333.5v-2.4M480.80,30.5v2.4M504.70,333.5v-2.4M504.70,30.5v2.4M528.60,333.5v-2.4M528.60,30.5v2.4M552.50,333.5v-4.2M552.50,30.5v4.2M64.5,331.20h4.2M554.5,331.20h-4.2M64.5,318.17h2.4M554.5,318.17h-2.4M64.5,305.65h2.4M554.5,305.65h-2.4M64.5,293.13h2.4M554.5,293.13h-2.4M64.5,280.62h4.2M554.5,280.62h-4.2M64.5,268.11h2.4M554.5,268.11h-2.4M64.5,255.59h2.4M554.5,255.59h-2.4M64.5,243.07h2.4M554.5,243.07h-2.4M64.5,230.56h4.2M554.5,230.56h-4.2M64.5,218.05h2.4M554.5,218.05h-2.4M64.5,205.53h2.4M554.5,205.53h-2.4M64.5,193.01h2.4M554.5,193.01h-2.4M64.5,180.50h4.2M554.5,180.50h-4.2M64.5,167.99h2.4M554.5,167.99h-2.4M64.5,155.47h2.4M554.5,155.47h-2.4M64.5,142.95h2.4M554.5,142.95h-2.4M64.5,130.44h4.2M554.5,130.44h-4.2M64.5,117.92h2.4M554.5,117.92h-2.4M64.5,105.41h2.4M554.5,105.41h-2.4M64.5,92.89h2.4M554.5,92.89h-2.4M64.5,80.38h4.2M554.5,80.38h-4.2M64.5,67.86h2.4M554.5,67.86h-2.4M64.5,55.35h2.4M554.5,55.35h-2.4M64.5,42.83h2.4M554.5,42.83h-2.4M64.5,30.32h4.2M554.5,30.32h-4.2" stroke="#666" stroke-width="0.62" fill="none"/>
<text transform="translate(74.1,353.6) scale(1,1.05)" font-size="19.5" text-anchor="middle">0.0</text>
<text transform="translate(169.6,353.6) scale(1,1.05)" font-size="19.5" text-anchor="middle">0.2</text>
<text transform="translate(265.1,353.6) scale(1,1.05)" font-size="19.5" text-anchor="middle">0.4</text>
<text transform="translate(361.3,353.6) scale(1,1.05)" font-size="19.5" text-anchor="middle">0.6</text>
<text transform="translate(456.2,353.6) scale(1,1.05)" font-size="19.5" text-anchor="middle">0.8</text>
<text transform="translate(552.5,353.6) scale(1,1.05)" font-size="19.5" text-anchor="middle">1.0</text>
<text transform="translate(61.2,337.8) scale(1,1.05)" font-size="19.5" text-anchor="end">0.6</text>
<path d="M24.6,332.03H34.9" stroke="#000" stroke-width="1.15" fill="none"/>
<text transform="translate(61.2,287.7) scale(1,1.05)" font-size="19.5" text-anchor="end">0.4</text>
<path d="M24.6,281.97H34.9" stroke="#000" stroke-width="1.15" fill="none"/>
<text transform="translate(61.2,237.7) scale(1,1.05)" font-size="19.5" text-anchor="end">0.2</text>
<path d="M24.6,231.91H34.9" stroke="#000" stroke-width="1.15" fill="none"/>
<text transform="translate(61.2,187.2) scale(1,1.05)" font-size="19.5" text-anchor="end">0.0</text>
<text transform="translate(61.2,136.9) scale(1,1.05)" font-size="19.5" text-anchor="end">0.2</text>
<text transform="translate(61.2,86.9) scale(1,1.05)" font-size="19.5" text-anchor="end">0.4</text>
<text transform="translate(61.2,36.8) scale(1,1.05)" font-size="19.5" text-anchor="end">0.6</text>
<text transform="translate(127.5,17.9) scale(1,1.05)" font-size="19.6" fill="#ff0000" letter-spacing="0">CZ</text>
<text transform="translate(156.7,17.9) scale(1,1.05)" font-size="19.6" fill="#000" letter-spacing="0.2">v.s.</text>
<text transform="translate(188.9,17.9) scale(1,1.05)" font-size="19.6" fill="#0000ff" letter-spacing="0.25">COZ</text>
<text transform="translate(233.3,17.9) scale(1,1.05)" font-size="19.6" fill="#000" letter-spacing="0.05">v.s.</text>
<text transform="translate(265.6,17.9) scale(1,1.05)" font-size="19.6" fill="#00ff00" letter-spacing="0">KS</text>
<text transform="translate(297.2,17.9) scale(1,1.05)" font-size="19.6" fill="#000" letter-spacing="0.3">v.s</text>
<text transform="translate(324.4,17.9) scale(1,1.05)" font-size="19.6" fill="#ff00ff" letter-spacing="0">GS</text>
<text transform="translate(354.8,17.9) scale(1,1.05)" font-size="19.6" fill="#000" letter-spacing="0">input</text>
<text transform="translate(400.0,17.9) scale(1,1.05)" font-size="19.6" fill="#000" letter-spacing="0">nucleon</text>
<text transform="translate(467.4,17.9) scale(1,1.05)" font-size="19.6" fill="#000" letter-spacing="0">DA</text>
<text x="290.6" y="377.8" font-size="19.5" font-style="italic">x</text>
<text x="299.7" y="380.7" font-size="14" font-style="italic">B</text>
<g transform="translate(19.6,0) rotate(-90)" font-style="italic" font-size="19.5">
<text transform="translate(-251.6,0) scale(1.0,1.04)">STSA</text>
<path d="M-188.86,-9.4L-189.54,-9.8L-197.62,2.72L-195.98,3.68Z" fill="#000"/>
<path d="M-193.6,-2.6C-193.8,-5.5 -195,-8.2 -196.7,-9C-198,-9.5 -199,-8.3 -199.4,-7" fill="none" stroke="#000" stroke-width="1.35" stroke-linecap="round"/>
<text transform="translate(-186.9,-4.8) scale(1.0,1.04)" font-size="13.5" fill="#444">*</text>
<text transform="translate(-176.8,0) scale(1.0,1.04)">p</text>
<path d="M-165.3,-5.65H-152.8" fill="none" stroke="#444" stroke-width="1.6"/>
<path d="M-155.7,-9.4L-152.0,-5.65L-155.7,-1.9" fill="none" stroke="#000" stroke-width="1.3" stroke-linejoin="miter"/>
<text transform="translate(-150.7,0) scale(1.17,1.02)">π</text>
<text transform="translate(-135.9,-9.3) scale(1.0,1.04)" font-size="13.5">0</text>
<text transform="translate(-127.1,0) scale(1.0,1.04)">p</text>
</g>
</svg></body></html>
